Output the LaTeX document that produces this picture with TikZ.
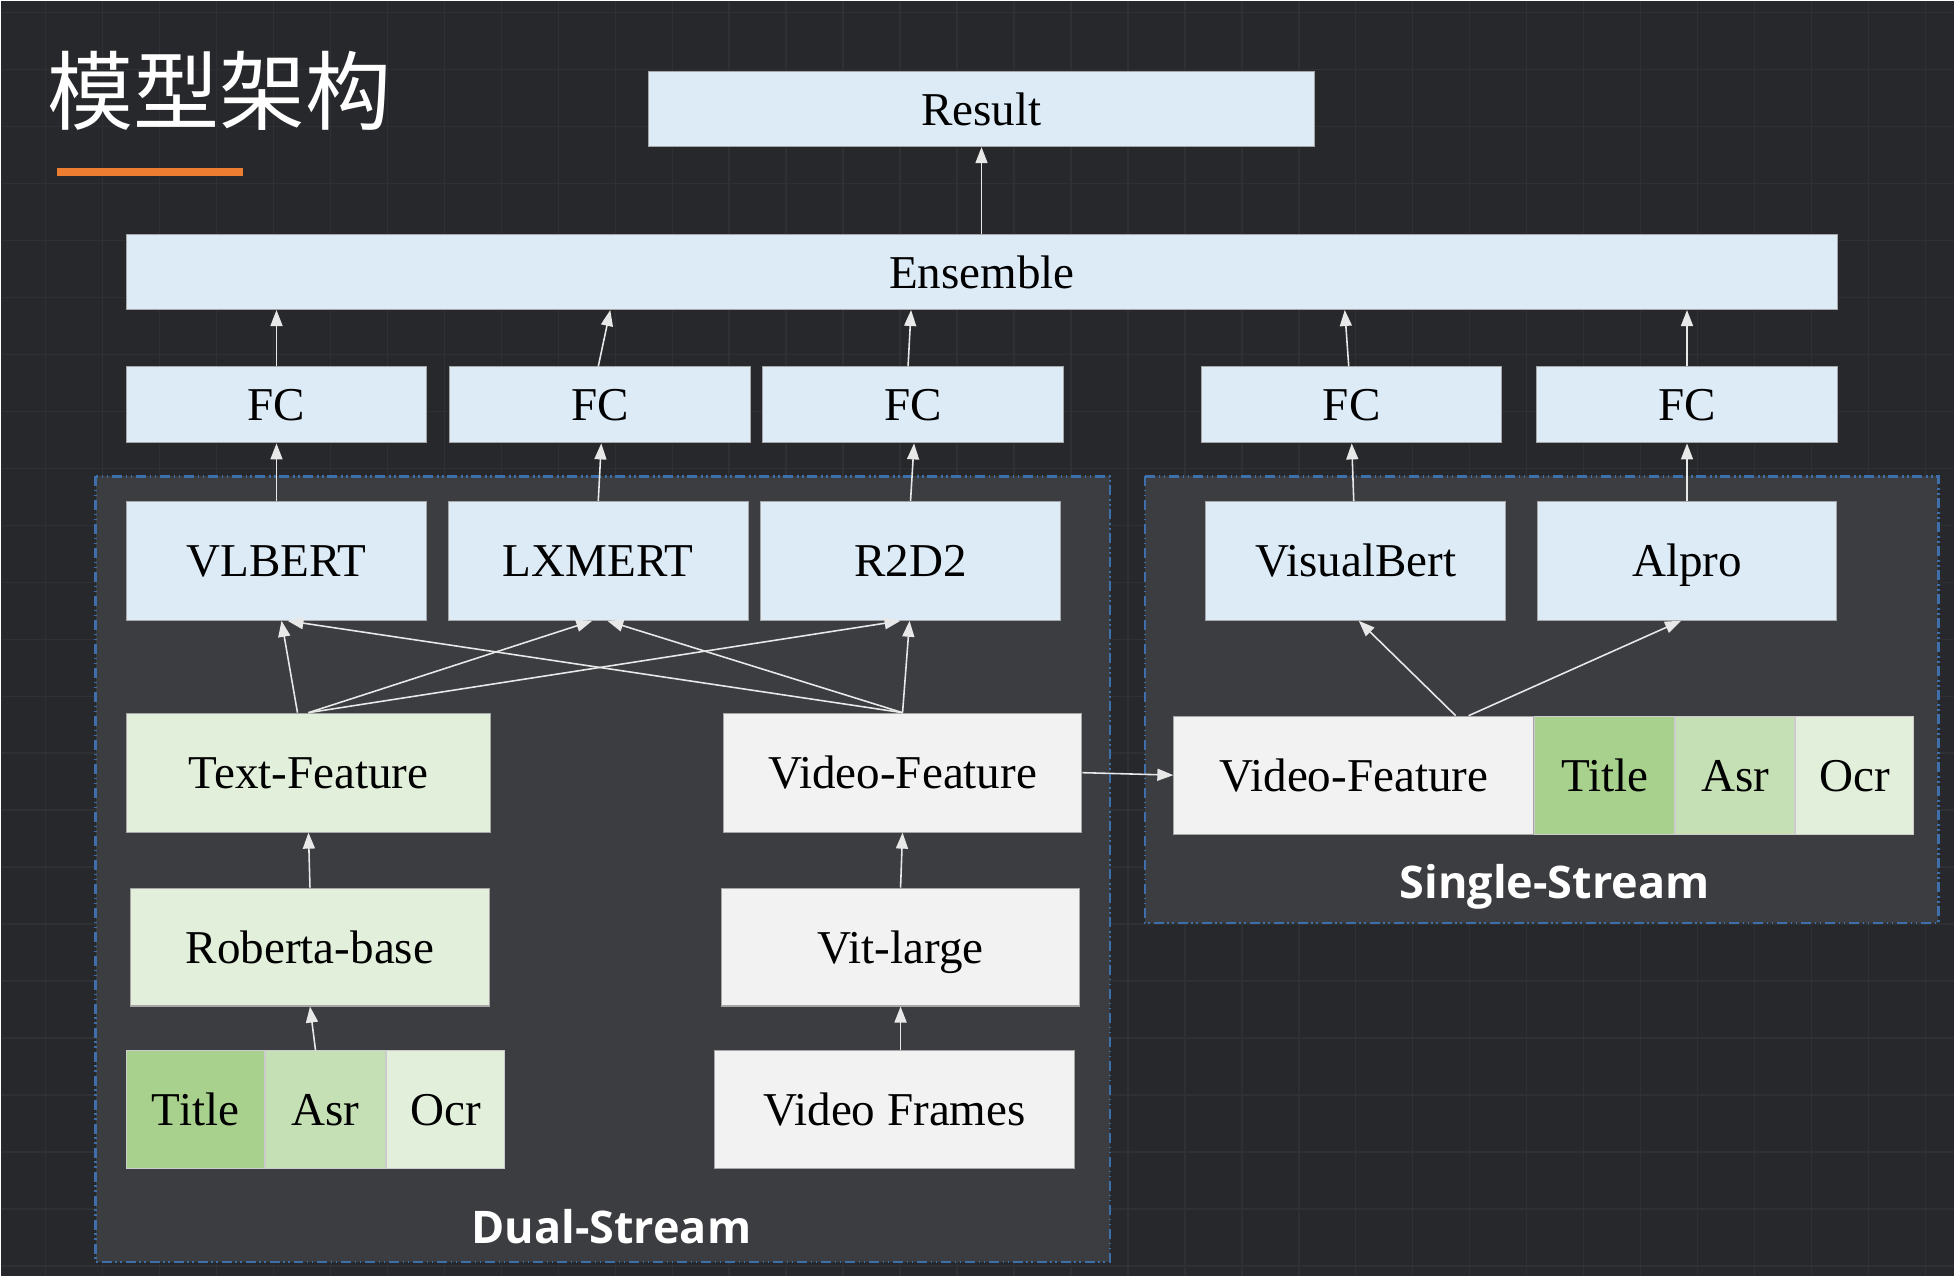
\documentclass[tikz,border=0pt]{standalone}
\usepackage{fontspec}
\setmainfont{Liberation Serif}
\newfontfamily\cjk{Noto Sans CJK SC}
\newfontfamily\groupfont{Open Sans}
\usetikzlibrary{arrows.meta,calc,positioning}
\definecolor{bgdark}{HTML}{27282B}
\definecolor{gridgray}{HTML}{2F3034}
\definecolor{panelgray}{HTML}{3C3D41}
\definecolor{panelblue}{HTML}{3D70AA}
\definecolor{modelblue}{HTML}{DDEBF7}
\definecolor{textgreen}{HTML}{E2EFDA}
\definecolor{videogray}{HTML}{F2F2F2}
\definecolor{titlegreen}{HTML}{A9D18E}
\definecolor{asrgreen}{HTML}{C5E0B4}
\definecolor{barorange}{HTML}{ED7D31}
\definecolor{arrowwhite}{HTML}{E8E8E8}
\tikzset{
  box/.style={rectangle, draw=black!35, line width=0.3pt, inner sep=0pt,
    text height=0.32cm, text depth=0cm,
    font=\fontsize{13.4}{16}\selectfont},
  model/.style={box, fill=modelblue, minimum width=3cm, minimum height=1.19cm},
  head/.style={box, fill=modelblue, minimum width=3cm, minimum height=0.76cm},
  textbox/.style={box, fill=textgreen, minimum height=1.19cm},
  videobox/.style={box, fill=videogray, minimum height=1.18cm},
  cell/.style={box, draw=black!20, minimum height=1.18cm},
  link/.style={-{Triangle[length=0.16cm,width=0.12cm]}, draw=arrowwhite, line width=0.45pt},
  stream/.style={draw=panelblue, fill=panelgray, line width=0.7pt,
    dash pattern=on 0.1cm off 0.035cm on 0.015cm off 0.035cm on 0.015cm off 0.04cm},
  stream label/.style={text=white, font=\groupfont\bfseries\fontsize{12.8}{15}\selectfont},
}

\begin{document}
\begin{tikzpicture}
  % Background
  \fill[bgdark] (0,0) rectangle (19.55,-12.76);
  \draw[gridgray, line width=0.4pt, step=0.57, shift={(0.45,-0.12)}] (-0.45,0.12) grid (19.1,-12.64);
  \useasboundingbox (0,0) rectangle (19.55,-12.76);

  % Title
  \node[anchor=west, inner sep=0pt, text=white, font=\cjk\fontsize{24.5}{28}\selectfont] (title) at (0.46,-0.90) {模型架构};
  \fill[barorange] (0.56,-1.67) rectangle (2.42,-1.75);

  % Stream panels
  \draw[stream] (0.95,-4.76) rectangle (11.10,-12.62);
  \draw[stream] (11.45,-4.76) rectangle (19.39,-9.23);
  \node[stream label] (duallabel) at (6.11,-12.27) {Dual-Stream};
  \node[stream label] (singlelabel) at (15.55,-8.87) {Single-Stream};

  % Top
  \node[head, minimum width=6.67cm, minimum height=0.75cm] (result) at (9.815,-1.085) {Result};
  \node[head, minimum width=17.12cm, minimum height=0.75cm] (ens) at (9.82,-2.715) {Ensemble};

  % FC heads
  \node[head] (fc1) at (2.76,-4.045) {FC};
  \node[head, minimum width=3.01cm] (fc2) at (6.00,-4.045) {FC};
  \node[head, minimum width=3.01cm] (fc3) at (9.13,-4.045) {FC};
  \node[head] (fc4) at (13.52,-4.045) {FC};
  \node[head, minimum width=3.01cm] (fc5) at (16.875,-4.045) {FC};

  % Models
  \node[model] (vlbert) at (2.76,-5.605) {VLBERT};
  \node[model] (lxmert) at (5.98,-5.605) {LXMERT};
  \node[model] (r2d2) at (9.105,-5.605) {R2D2};
  \node[model] (visualbert) at (13.56,-5.605) {VisualBert};
  \node[model] (alpro) at (16.875,-5.605) {Alpro};

  % Dual-stream features
  \node[textbox, minimum width=3.64cm] (textfeat) at (3.08,-7.725) {Text-Feature};
  \node[videobox, minimum width=3.59cm, minimum height=1.19cm] (videofeat) at (9.025,-7.725) {Video-Feature};
  \node[textbox, minimum width=3.59cm, minimum height=1.18cm] (roberta) at (3.095,-9.47) {Roberta-base};
  \node[videobox, minimum width=3.59cm] (vit) at (9.005,-9.47) {Vit-large};
  \node[cell, fill=titlegreen, minimum width=1.38cm] (dtitle) at (1.95,-11.10) {Title};
  \node[cell, fill=asrgreen, minimum width=1.20cm, right=0pt of dtitle] (dasr) {Asr};
  \node[cell, fill=textgreen, minimum width=1.18cm, right=0pt of dasr] (docr) {Ocr};
  \node[videobox, minimum width=3.61cm] (frames) at (8.945,-11.10) {Video Frames};

  % Single-stream input
  \node[videobox, minimum width=3.60cm] (svideo) at (13.54,-7.75) {Video-Feature};
  \node[cell, fill=titlegreen, minimum width=1.40cm, right=0pt of svideo] (stitle) {Title};
  \node[cell, fill=asrgreen, minimum width=1.19cm, right=0pt of stitle] (sasr) {Asr};
  \node[cell, fill=textgreen, minimum width=1.18cm, right=0pt of sasr] (socr) {Ocr};

  \coordinate (dgroup) at ($(dtitle.north west)!0.5!(docr.north east)$);

  % Top arrows
  \draw[link] (ens.north -| result) -- (result);
  \draw[link] (fc1) -- (fc1 |- ens.south);
  \draw[link] ($(fc2.north)+(-0.02,0)$) -- ($(fc2.north |- ens.south)+(0.1,0)$);
  \draw[link] ($(fc3.north)+(-0.05,0)$) -- ($(fc3.north |- ens.south)+(-0.02,0)$);
  \draw[link] ($(fc4.north)+(-0.03,0)$) -- ($(fc4.north |- ens.south)+(-0.07,0)$);
  \draw[link] (fc5) -- (fc5 |- ens.south);

  % Models to heads
  \draw[link] (vlbert) -- (fc1);
  \draw[link] (lxmert.north) -- ($(fc2.south)+(0.01,0)$);
  \draw[link] (r2d2.north) -- ($(fc3.south)+(0.01,0)$);
  \draw[link] ($(visualbert.north)+(-0.02,0)$) -- ($(fc4.south)+(0.0,0)$);
  \draw[link] (alpro.north) -- (fc5.south);

  % Features to dual-stream models
  \draw[link] ($(textfeat.north)+(-0.11,0)$) -- ($(vlbert.south)+(0.05,0)$);
  \draw[link] (textfeat.north) -- ($(lxmert.south)+(-0.06,0)$);
  \draw[link] (textfeat.north) -- ($(r2d2.south)+(-0.1,0)$);
  \draw[link] (videofeat.north) -- ($(vlbert.south)+(0.11,0)$);
  \draw[link] (videofeat.north) -- ($(lxmert.south)+(0.09,0)$);
  \draw[link] (videofeat.north) -- ($(r2d2.south)+(-0.01,0)$);

  % Encoders
  \draw[link] (roberta.north) -- (textfeat.south);
  \draw[link] (dgroup) -- (roberta.south);
  \draw[link] (vit.north) -- (videofeat.south);
  \draw[link] (frames.north -| vit) -- (vit.south);

  % Single stream
  \draw[link] (videofeat.east) -- (svideo.west);
  \draw[link] ($(svideo.north)+(1.02,0)$) -- ($(visualbert.south)+(0.03,0)$);
  \draw[link] ($(svideo.north)+(1.15,0)$) -- ($(alpro.south)+(-0.06,0)$);
\end{tikzpicture}
\end{document}
